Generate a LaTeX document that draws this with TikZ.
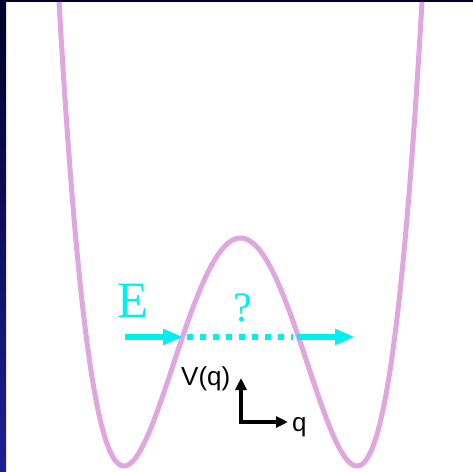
\documentclass[tikz,border=0pt]{standalone}
\usepackage{fontspec}
\setmainfont{Liberation Serif}
\newfontfamily\arialfont{Liberation Sans}
\usetikzlibrary{arrows.meta}
\definecolor{wellpink}{RGB}{224,166,224}
\definecolor{ecyan}{RGB}{0,240,240}
\definecolor{navytop}{RGB}{0,0,40}
\definecolor{navybot}{RGB}{30,30,150}
\tikzset{
  well/.style={draw=wellpink, line width=5pt, line join=round},
  earrow/.style={draw=ecyan, line width=5pt, -{Triangle[length=20pt,width=15pt]}},
  edots/.style={draw=ecyan, line width=5pt, dash pattern=on 6pt off 7pt},
  axisarrow/.style={draw=black, line width=3.5pt, -{Triangle[length=12pt,width=11pt]}},
  bigtxt/.style={text=ecyan, inner sep=0pt},
  axtxt/.style={font=\arialfont\fontsize{26}{30}\selectfont, inner sep=0pt}
}
\begin{document}
\begin{tikzpicture}[x=1pt,y=1pt]
\useasboundingbox (0,0) rectangle (473,471);
% background
\fill[white] (0,0) rectangle (473,471);
\fill[navytop] (0,468.5) rectangle (473,471);
\shade[top color=navytop, bottom color=navybot] (0,0) rectangle (6,471);
% double well
\begin{scope}
\clip (6,0) rectangle (473,468.5);
\draw[well, domain=-1.62:1.62, samples=240, smooth]
  plot ({240.5+116.5*\x}, {5+228*(1-\x*\x)^2});
\end{scope}
% energy arrow
\coordinate (e0) at (125,134);
\coordinate (e1) at (183,134);
\coordinate (d0) at (187,134);
\coordinate (d1) at (293,134);
\coordinate (e2) at (297,134);
\coordinate (e3) at (355,134);
\draw[earrow] (e0) -- (e1);
\draw[edots] (d0) -- (d1);
\draw[earrow] (e2) -- (e3);
\node[bigtxt, anchor=base, font=\fontsize{51}{56}\selectfont] (E) at (133,153) {E};
\node[bigtxt, anchor=base, font=\fontsize{42}{46}\selectfont] (Q) at (243,149) {?};
% axes
\coordinate (o) at (241,49);
\coordinate (vt) at (241,93);
\coordinate (qt) at (288,49);
\draw[axisarrow] ([yshift=-1.75pt]o) -- (vt);
\draw[axisarrow] ([xshift=-1.75pt]o) -- (qt);
\node[axtxt, anchor=base west] (V) at (181,86) {V(q)};
\node[axtxt, anchor=base west] (q) at (292,40) {q};
\end{tikzpicture}
\end{document}
